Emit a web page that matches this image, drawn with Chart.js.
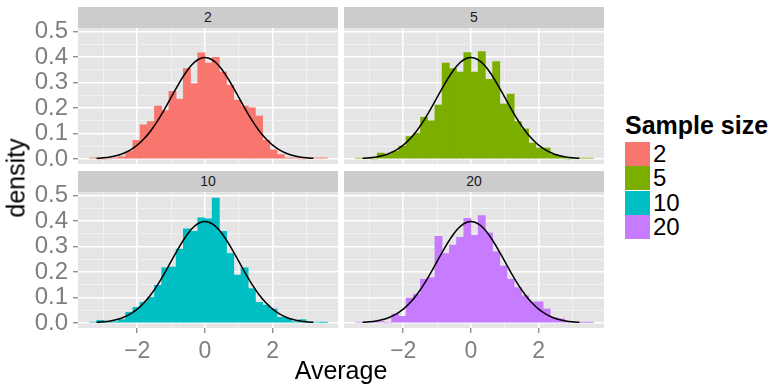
<!DOCTYPE html>
<html>
<head>
<meta charset="utf-8">
<script src="https://cdn.jsdelivr.net/npm/chart.js@4"></script>
<style>
html,body{margin:0;padding:0;background:#ffffff;}
body{width:774px;height:386px;position:relative;overflow:hidden;font-family:"Liberation Sans",Arial,sans-serif;}
canvas{position:absolute;}
.strip{position:absolute;background:#CCCCCC;color:#1A1A1A;font-size:14px;text-align:center;height:21px;line-height:21px;width:260px;}
.txt{position:absolute;white-space:nowrap;color:#000;}
.key{position:absolute;left:625px;width:25px;height:24px;}
.klab{position:absolute;left:653px;font-size:24px;line-height:24px;color:#000;}
</style>
</head>
<body>
<div class="strip" style="left:78px;top:7px;">2</div>
<div class="strip" style="left:344px;top:7px;">5</div>
<div class="strip" style="left:78px;top:171px;">10</div>
<div class="strip" style="left:344px;top:171px;">20</div>
<canvas id="c2"></canvas>
<canvas id="c5"></canvas>
<canvas id="c10"></canvas>
<canvas id="c20"></canvas>
<div class="txt" id="ytitle" style="font-size:25px;left:16px;top:178px;transform:translate(-50%,-50%) rotate(-90deg);">density</div>
<div class="txt" id="xtitle" style="font-size:25px;left:341px;top:370px;transform:translate(-50%,-50%);">Average</div>
<div id="legend"></div>
<script>
// ---- data ----
const binCenters = [-3.3015,-3.0885,-2.8755,-2.6625,-2.4495,-2.2365,-2.0235,-1.8105,-1.5975,-1.3845,-1.1715,-0.9585,-0.7455,-0.5325,-0.3195,-0.1065,0.1065,0.3195,0.5325,0.7455,0.9585,1.1715,1.3845,1.5975,1.8105,2.0235,2.2365,2.4495,2.6625,2.8755,3.0885,3.3015,3.5145];
const density2  = [0.004,0,0,0.004,0.009,0.030,0.073,0.134,0.147,0.208,0.190,0.266,0.235,0.355,0.296,0.417,0.377,0.400,0.342,0.290,0.231,0.208,0.201,0.169,0.073,0.036,0.017,0.004,0.004,0,0.004,0.004,0.004];
const density5  = [0.003,0.003,0,0.023,0.017,0.030,0.050,0.088,0.100,0.164,0.150,0.212,0.377,0.355,0.342,0.418,0.342,0.422,0.313,0.383,0.216,0.255,0.147,0.118,0.062,0.043,0.043,0.017,0.010,0,0.003,0.003,0.003];
const density10 = [0.003,0.010,0.003,0.005,0.013,0.042,0.061,0.081,0.100,0.148,0.217,0.220,0.290,0.370,0.360,0.413,0.409,0.491,0.360,0.273,0.188,0.217,0.135,0.081,0.070,0.055,0.022,0.018,0.005,0.013,0.003,0.003,0.002];
const density20 = [0.003,0.003,0.005,0.005,0,0.035,0.026,0.098,0.113,0.172,0.178,0.341,0.273,0.306,0.337,0.411,0.345,0.422,0.354,0.280,0.224,0.172,0.139,0.107,0.083,0.083,0.055,0.021,0.016,0.003,0.003,0.002,0.002];
const curveX = [-3.2,-3.0,-2.8,-2.6,-2.4,-2.2,-2.0,-1.8,-1.6,-1.4,-1.2,-1.0,-0.8,-0.6,-0.4,-0.2,0,0.2,0.4,0.6,0.8,1.0,1.2,1.4,1.6,1.8,2.0,2.2,2.4,2.6,2.8,3.0,3.2];
const curveY = [0.0024,0.0044,0.0079,0.0136,0.0224,0.0355,0.0540,0.0790,0.1109,0.1497,0.1942,0.2420,0.2897,0.3332,0.3683,0.3910,0.3989,0.3910,0.3683,0.3332,0.2897,0.2420,0.1942,0.1497,0.1109,0.0790,0.0540,0.0355,0.0224,0.0136,0.0079,0.0044,0.0024];
const sampleSizes = ['2','5','10','20'];
const seriesColors = ['#F8766D','#7CAE00','#00BFC4','#C77CFF'];
const xTickValues = [-3,-2,-1,0,1,2,3];
const xTickLabels = ['','\u22122','','0','','2',''];
const yTickValues = [0,0.05,0.1,0.15,0.2,0.25,0.3,0.35,0.4,0.45,0.5];
const yTickLabels = ['0.0','','0.1','','0.2','','0.3','','0.4','','0.5'];

// ---- layout ----
const FONT = '"Liberation Sans", Arial, sans-serif';
const bgPlugin = {
  id: 'panelBg',
  beforeDraw(chart) {
    const a = chart.chartArea, c = chart.ctx;
    c.save(); c.fillStyle = '#E5E5E5';
    c.fillRect(a.left, a.top, a.right - a.left, a.bottom - a.top);
    c.restore();
  }
};

function panel(id, rect, values, color, showX, showY) {
  const L = showY ? 78 : 0, T = 20, B = showX ? 42 : 20;
  const cv = document.getElementById(id);
  cv.width = rect.w + L; cv.height = rect.h + T + B;
  cv.style.left = (rect.x - L) + 'px';
  cv.style.top = (rect.y - T) + 'px';
  const gridColor = labels => (ctx => labels[ctx.index] ? '#FFFFFF' : '#F2F2F2');
  const gridWidth = labels => (ctx => labels[ctx.index] ? 1.5 : 0.9);
  const tickColor = labels => (ctx => labels[ctx.index] ? '#7F7F7F' : 'rgba(0,0,0,0)');
  return new Chart(cv, {
    type: 'bar',
    data: {
      datasets: [
        { type: 'line', data: curveX.map((x, i) => ({x: x, y: curveY[i]})), borderColor: '#000000', borderWidth: 1.5,
          pointRadius: 0, fill: false, cubicInterpolationMode: 'monotone', order: 0 },
        { type: 'bar', data: binCenters.map((x, i) => ({x: x, y: values[i]})), backgroundColor: color,
          borderWidth: 0, barPercentage: 1, categoryPercentage: 1, order: 1 }
      ]
    },
    options: {
      responsive: false, animation: false, events: [],
      layout: { padding: { top: T, bottom: showX ? 0 : B, left: 0, right: 0 } },
      plugins: { legend: { display: false }, tooltip: { enabled: false } },
      scales: {
        x: {
          type: 'linear', min: -3.75, max: 3.93, offset: false,
          afterBuildTicks: s => { s.ticks = xTickValues.map(v => ({value: v})); },
          afterFit: s => { s.height = showX ? B : 0; },
          ticks: { display: showX, autoSkip: false, maxRotation: 0, color: '#7F7F7F', padding: 5,
                   font: { family: FONT, size: 23 }, callback: (v, i) => xTickLabels[i] },
          grid: { offset: false, color: gridColor(xTickLabels), lineWidth: gridWidth(xTickLabels), drawTicks: showX,
                  tickLength: 5, tickWidth: 1.2, tickColor: tickColor(xTickLabels) },
          border: { display: false }
        },
        y: {
          type: 'linear', min: -0.02, max: 0.515,
          afterBuildTicks: s => { s.ticks = yTickValues.map(v => ({value: v})); },
          afterFit: s => { s.width = L; },
          ticks: { display: showY, autoSkip: false, color: '#7F7F7F', padding: 5,
                   font: { family: FONT, size: 24 }, callback: (v, i) => yTickLabels[i] },
          grid: { color: gridColor(yTickLabels), lineWidth: gridWidth(yTickLabels), drawTicks: showY,
                  tickLength: 5, tickWidth: 1.2, tickColor: tickColor(yTickLabels) },
          border: { display: false }
        }
      }
    },
    plugins: [bgPlugin]
  });
}

panel('c2',  {x: 78,  y: 28,  w: 260, h: 136}, density2,  seriesColors[0], false, true);
panel('c5',  {x: 344, y: 28,  w: 260, h: 136}, density5,  seriesColors[1], false, false);
panel('c10', {x: 78,  y: 192, w: 260, h: 136}, density10, seriesColors[2], true,  true);
panel('c20', {x: 344, y: 192, w: 260, h: 136}, density20, seriesColors[3], true,  false);

// ---- legend ----
const lg = document.getElementById('legend');
const title = document.createElement('div');
title.className = 'txt';
title.style.cssText = 'left:625px;top:112px;font-size:25px;font-weight:bold;line-height:26px;';
title.textContent = 'Sample size';
lg.appendChild(title);
const keyTops = [142, 166, 190.5, 215];
sampleSizes.forEach((s, i) => {
  const k = document.createElement('div');
  k.className = 'key';
  k.style.top = keyTops[i] + 'px';
  k.style.background = seriesColors[i];
  lg.appendChild(k);
  const t = document.createElement('div');
  t.className = 'klab';
  t.style.top = keyTops[i] + 'px';
  t.textContent = s;
  lg.appendChild(t);
});
</script>
</body>
</html>
